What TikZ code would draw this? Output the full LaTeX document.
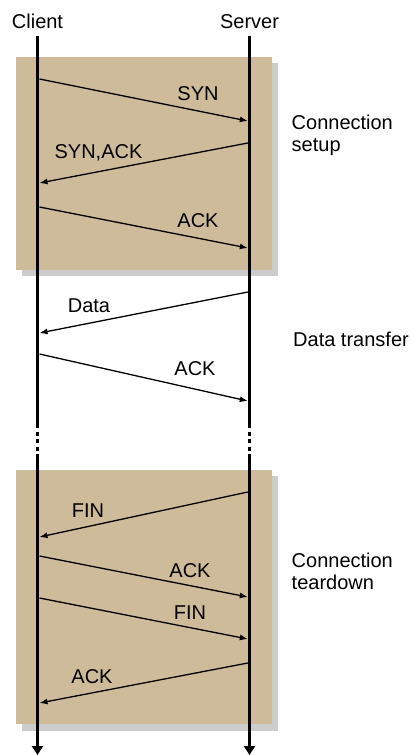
\documentclass[tikz,border=0pt]{standalone}
\usepackage{fontspec}
\setmainfont{Liberation Sans}
\usetikzlibrary{arrows.meta}
\definecolor{phasetan}{RGB}{205,187,153}
\definecolor{phaseshadow}{RGB}{204,204,204}
\tikzset{
  lbl/.style={inner sep=0pt, anchor=base, font=\fontsize{20}{22}\selectfont},
  side/.style={inner sep=0pt, anchor=base west, align=left, font=\fontsize{20}{22}\selectfont},
  lifeline/.style={line width=3.3pt},
  gapline/.style={line width=3.3pt, dash pattern=on 4pt off 3.5pt, dash phase=4pt},
  msg/.style={line width=1.3pt, -{Latex[length=8pt,width=6pt]}},
  phase/.style={fill=phasetan, draw=none},
  phaseshade/.style={fill=phaseshadow, draw=none}
}
\begin{document}
\begin{tikzpicture}[x=1pt,y=-1pt]
\useasboundingbox (0,0) rectangle (412,755);

% phase backgrounds with drop shadows
\fill[phaseshade] (22,63) rectangle (278,276);
\fill[phase] (16,57) rectangle (272,270);
\fill[phaseshade] (22,476) rectangle (278,731);
\fill[phase] (16,470) rectangle (272,724);

% headings
\node[lbl] (client) at (37.5,28) {Client};
\node[lbl] (server) at (249.5,28) {Server};

% lifelines: solid, interrupted section, solid with arrow
\coordinate (ctop) at (37.5,36);
\coordinate (cgap1) at (37.5,428);
\coordinate (cgap2) at (37.5,458);
\coordinate (cend) at (37.5,755);
\coordinate (stop) at (249.5,36);
\coordinate (sgap1) at (249.5,428);
\coordinate (sgap2) at (249.5,458);
\coordinate (send) at (249.5,755);
\draw[lifeline] (ctop) -- (cgap1);
\draw[gapline] (cgap1) -- (cgap2);
\draw[lifeline, -{Triangle[length=9pt,width=11pt]}] (cgap2) -- (cend);
\draw[lifeline] (stop) -- (sgap1);
\draw[gapline] (sgap1) -- (sgap2);
\draw[lifeline, -{Triangle[length=9pt,width=11pt]}] (sgap2) -- (send);

% message end points on the lifelines
\coordinate (c1) at (39.5,79);   \coordinate (s1) at (247.8,121);
\coordinate (s2) at (247.8,143); \coordinate (c2) at (39.5,183);
\coordinate (c3) at (39.5,207);  \coordinate (s3) at (247.8,248);
\coordinate (s4) at (247.8,292); \coordinate (c4) at (39.5,333);
\coordinate (c5) at (39.5,354);  \coordinate (s5) at (247.8,401);
\coordinate (s6) at (247.8,492); \coordinate (c6) at (39.5,537);
\coordinate (c7) at (39.5,556);  \coordinate (s7) at (247.8,597);
\coordinate (c8) at (39.5,598);  \coordinate (s8) at (247.8,639);
\coordinate (s9) at (247.8,663); \coordinate (c9) at (39.5,703);

% messages
\draw[msg] (c1) -- (s1);
\draw[msg] (s2) -- (c2);
\draw[msg] (c3) -- (s3);
\draw[msg] (s4) -- (c4);
\draw[msg] (c5) -- (s5);
\draw[msg] (s6) -- (c6);
\draw[msg] (c7) -- (s7);
\draw[msg] (c8) -- (s8);
\draw[msg] (s9) -- (c9);

% message labels
\node[lbl] (l1) at (198,100) {SYN};
\node[lbl] (l2) at (98.5,158) {SYN,ACK};
\node[lbl] (l3) at (198,227) {ACK};
\node[lbl] (l4) at (89,312) {Data};
\node[lbl] (l5) at (195,375) {ACK};
\node[lbl] (l6) at (88,517) {FIN};
\node[lbl] (l7) at (190,577) {ACK};
\node[lbl] (l8) at (190,619) {FIN};
\node[lbl] (l9) at (92,683) {ACK};

% phase names
\node[side] (p1) at (291.5,151) {Connection\\setup};
\node[side] (p2) at (293,346) {Data transfer};
\node[side] (p3) at (291.5,589) {Connection\\teardown};
\end{tikzpicture}
\end{document}
